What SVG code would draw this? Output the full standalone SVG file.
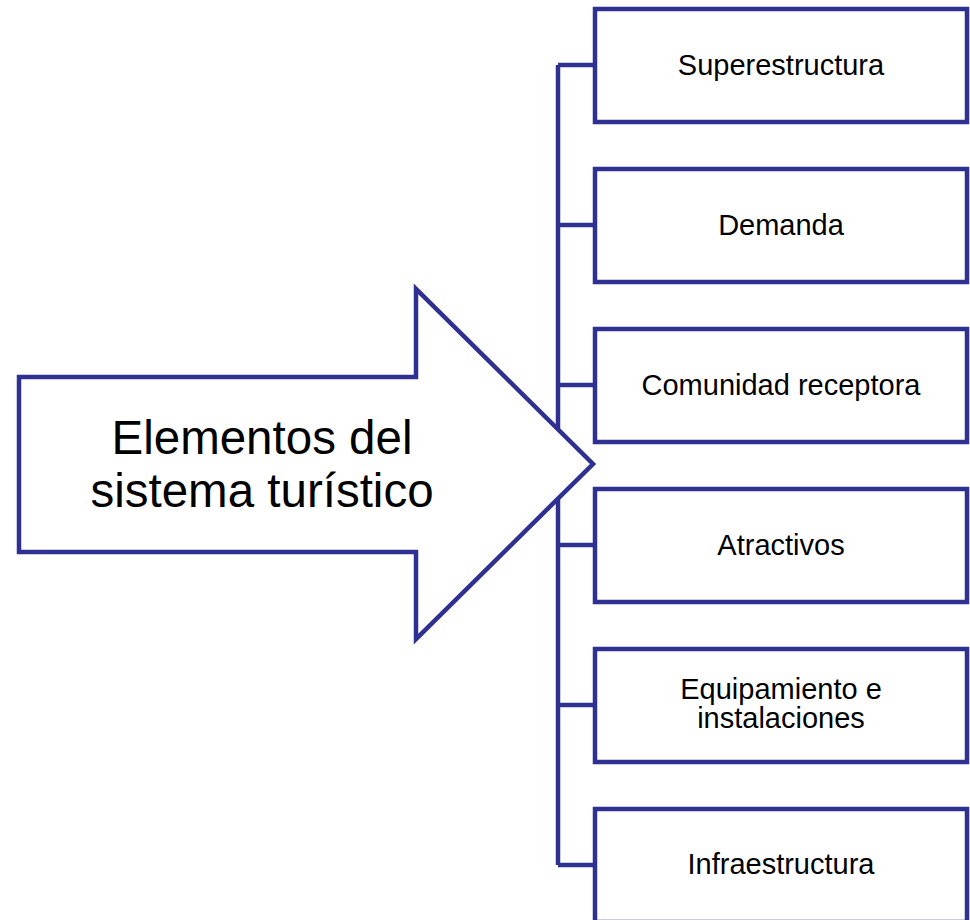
<svg xmlns="http://www.w3.org/2000/svg" width="970" height="920" viewBox="0 0 970 920">
<style>
.box{fill:#ffffff;stroke:#2E3192;stroke-width:4.5}
.line{fill:none;stroke:#2E3192;stroke-width:4.5}
.lbl{font-family:"Liberation Sans",Arial,sans-serif;font-size:29px;fill:#000000;text-anchor:middle}
.big{font-family:"Liberation Sans",Arial,sans-serif;font-size:47.5px;fill:#000000;text-anchor:middle}
</style>
<rect width="970" height="920" fill="#ffffff"/>
<g id="connectors">
<path class="line" d="M558,65 V865 M558,65 H595 M558,225 H595 M558,385 H595 M558,545 H595 M558,705 H595 M558,865 H595"/>
</g>
<g id="arrow">
<polygon class="box" points="19,377 416,377 416,289 593,464 416,639 416,552 19,552"/>
<text class="big" x="262" y="454">Elementos del</text>
<text class="big" x="262" y="507">sistema turístico</text>
</g>
<g id="n1"><rect class="box" x="595" y="9" width="372" height="113"/><text class="lbl" x="781" y="75">Superestructura</text></g>
<g id="n2"><rect class="box" x="595" y="169" width="372" height="113"/><text class="lbl" x="781" y="235">Demanda</text></g>
<g id="n3"><rect class="box" x="595" y="329" width="372" height="113"/><text class="lbl" x="781" y="395">Comunidad receptora</text></g>
<g id="n4"><rect class="box" x="595" y="489" width="372" height="113"/><text class="lbl" x="781" y="555">Atractivos</text></g>
<g id="n5"><rect class="box" x="595" y="649" width="372" height="113"/><text class="lbl" x="781" y="699">Equipamiento e</text><text class="lbl" x="781" y="728">instalaciones</text></g>
<g id="n6"><rect class="box" x="595" y="809" width="372" height="113"/><text class="lbl" x="781" y="874">Infraestructura</text></g>
</svg>
